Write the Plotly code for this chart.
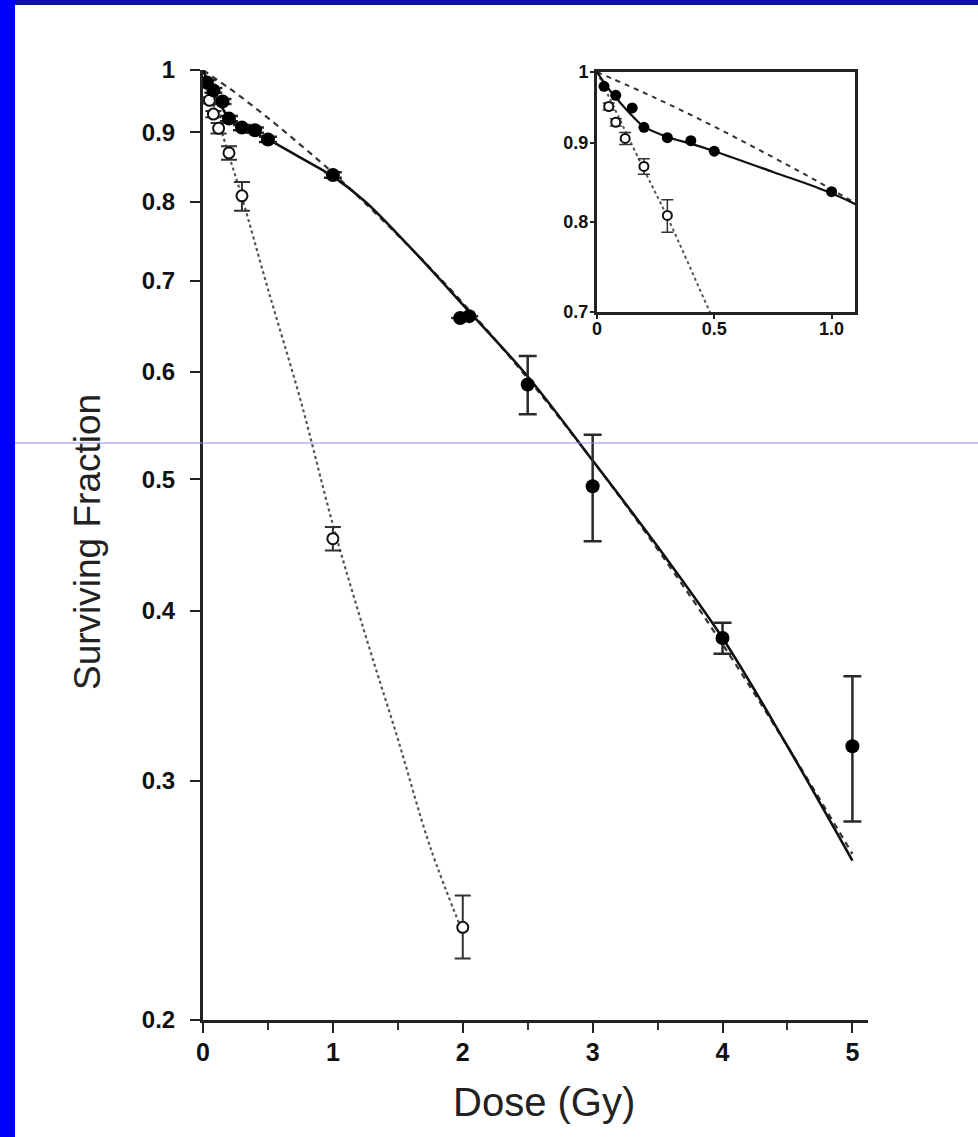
import plotly.graph_objects as go
import math

# ---------------- data ----------------
filled_dose = [0.03, 0.08, 0.15, 0.2, 0.3, 0.4, 0.5, 1.0, 1.98, 2.05, 2.5, 3.0, 4.0, 5.0]
filled_sf = [0.979, 0.966, 0.948, 0.921, 0.907, 0.903, 0.889, 0.837, 0.657, 0.659, 0.587, 0.494, 0.382, 0.318]
filled_err_hi = [0.004, 0.004, 0.004, 0.004, 0.004, 0.004, 0.004, 0.004, 0.0, 0.0, 0.029, 0.045, 0.010, 0.040]
filled_err_lo = [0.004, 0.004, 0.004, 0.004, 0.004, 0.004, 0.004, 0.004, 0.0, 0.0, 0.029, 0.044, 0.010, 0.038]

open_dose = [0.05, 0.08, 0.12, 0.2, 0.3, 1.0, 2.0]
open_sf = [0.95, 0.928, 0.906, 0.869, 0.808, 0.452, 0.234]
open_err_hi = [0.005, 0.005, 0.008, 0.010, 0.019, 0.009, 0.013]
open_err_lo = [0.005, 0.005, 0.008, 0.010, 0.020, 0.009, 0.012]

solid_dose = [0, 0.05, 0.1, 0.15, 0.2, 0.3, 0.4, 0.5, 0.75, 1.0, 1.25, 1.5, 1.75, 2.0, 2.5, 3.0, 3.5, 4.0, 4.5, 5.0]
solid_sf = [1.0, 0.975, 0.955, 0.937, 0.922, 0.908, 0.899, 0.889, 0.862, 0.835, 0.800, 0.757, 0.714, 0.672, 0.595, 0.516, 0.446, 0.382, 0.318, 0.262]

dashed_dose = [0, 0.25, 0.5, 0.75, 1.0, 1.5, 2.0, 2.5, 3.0, 3.5, 4.0, 4.5, 5.0]
dashed_sf = [1.0, 0.962, 0.922, 0.881, 0.840, 0.756, 0.674, 0.593, 0.516, 0.444, 0.378, 0.318, 0.265]

dotted_dose = [0, 0.1, 0.2, 0.3, 0.5, 0.75, 1.0, 1.25, 1.5, 1.75, 2.0]
dotted_sf = [1.0, 0.93, 0.865, 0.806, 0.69, 0.572, 0.463, 0.384, 0.322, 0.268, 0.232]

main_y_ticks = [0.2, 0.3, 0.4, 0.5, 0.6, 0.7, 0.8, 0.9, 1]
main_y_text = ["0.2", "0.3", "0.4", "0.5", "0.6", "0.7", "0.8", "0.9", "1"]
main_x_ticks = [0, 1, 2, 3, 4, 5]
main_x_text = ["0", "1", "2", "3", "4", "5"]
inset_y_ticks = [0.7, 0.8, 0.9, 1]
inset_y_text = ["0.7", "0.8", "0.9", "1"]
inset_x_ticks = [0, 0.5, 1.0]
inset_x_text = ["0", "0.5", "1.0"]

# ---------------- layout geometry ----------------
W, H = 978, 1137
L, T = 203, 70
PW, PH = 665, 950
R = W - L - PW
B = H - T - PH


def px_x(p):
    return (p - L) / PW


def px_y(p):
    return (T + PH - p) / PH


FONT = "Liberation Sans, Arial, sans-serif"
INK = "#111"

fig = go.Figure()

# ----- main plot -----
fig.add_trace(go.Scatter(x=dotted_dose, y=dotted_sf, mode="lines", line=dict(color="#555", width=2.2, dash="dot", shape="spline"),
                         showlegend=False))
fig.add_trace(go.Scatter(x=dashed_dose, y=dashed_sf, mode="lines", line=dict(color="#333", width=2.2, dash="6px,5px", shape="spline"),
                         showlegend=False))
fig.add_trace(go.Scatter(x=solid_dose, y=solid_sf, mode="lines", line=dict(color="#111", width=2.6, shape="spline"),
                         showlegend=False))
fig.add_trace(go.Scatter(x=open_dose, y=open_sf, mode="markers",
                         marker=dict(symbol="circle", size=11, color="white", line=dict(color="#111", width=2)),
                         error_y=dict(type="data", symmetric=False, array=open_err_hi, arrayminus=open_err_lo,
                                      color="#333", thickness=2, width=8),
                         showlegend=False))
fig.add_trace(go.Scatter(x=filled_dose, y=filled_sf, mode="markers",
                         marker=dict(symbol="circle", size=14, color="#000"),
                         error_y=dict(type="data", symmetric=False, array=filled_err_hi, arrayminus=filled_err_lo,
                                      color="#2a2a2a", thickness=2.5, width=9),
                         showlegend=False))

# ----- inset -----
fig.add_trace(go.Scatter(x=dotted_dose, y=dotted_sf, mode="lines", xaxis="x2", yaxis="y2",
                         line=dict(color="#555", width=2, dash="dot", shape="spline"), showlegend=False))
fig.add_trace(go.Scatter(x=dashed_dose, y=dashed_sf, mode="lines", xaxis="x2", yaxis="y2",
                         line=dict(color="#333", width=2, dash="5px,5px", shape="spline"), showlegend=False))
fig.add_trace(go.Scatter(x=solid_dose, y=solid_sf, mode="lines", xaxis="x2", yaxis="y2",
                         line=dict(color="#111", width=2.2, shape="spline"), showlegend=False))
fig.add_trace(go.Scatter(x=open_dose, y=open_sf, mode="markers", xaxis="x2", yaxis="y2",
                         marker=dict(symbol="circle", size=9, color="white", line=dict(color="#111", width=2)),
                         error_y=dict(type="data", symmetric=False, array=open_err_hi, arrayminus=open_err_lo,
                                      color="#333", thickness=1.5, width=6),
                         showlegend=False))
fig.add_trace(go.Scatter(x=filled_dose, y=filled_sf, mode="markers", xaxis="x2", yaxis="y2",
                         marker=dict(symbol="circle", size=11, color="#000"),
                         showlegend=False))

axis_common = dict(showgrid=False, zeroline=False, showline=True, linecolor="#222", ticks="outside",
                   tickcolor="#222")

fig.update_layout(
    width=W, height=H,
    margin=dict(l=L, r=R, t=T, b=B, pad=0),
    paper_bgcolor="white", plot_bgcolor="white",
    font=dict(family=FONT, color=INK),
    xaxis=dict(axis_common, domain=[0, 1], range=[0, 5.12], tickvals=main_x_ticks, ticktext=main_x_text,
               linewidth=3, ticklen=10, tickwidth=2, tickfont=dict(size=25, color=INK, weight="bold"),
               ticklabelstandoff=-2,
               minor=dict(dtick=0.5, tick0=0, ticks="outside", ticklen=7, tickwidth=2, tickcolor="#333"),
               anchor="y"),
    yaxis=dict(axis_common, domain=[0, 1], type="log", range=[math.log10(0.2), 0],
               tickvals=main_y_ticks, ticktext=main_y_text, linewidth=3, ticklen=10, tickwidth=2,
               tickfont=dict(size=24, color=INK, weight="bold"), ticklabelstandoff=10, anchor="x"),
    xaxis2=dict(axis_common, domain=[px_x(597), px_x(855)], range=[0, 1.1], tickvals=inset_x_ticks,
                ticktext=inset_x_text, linewidth=3, mirror=True, ticklen=4, tickwidth=2,
                tickfont=dict(size=18, color=INK, weight="bold"), ticklabelstandoff=-6, anchor="y2"),
    yaxis2=dict(axis_common, domain=[px_y(312), px_y(72)], type="log", range=[math.log10(0.7), 0],
                tickvals=inset_y_ticks, ticktext=inset_y_text, linewidth=3, mirror=True, ticklen=4, tickwidth=2,
                tickfont=dict(size=18, color=INK, weight="bold"), ticklabelstandoff=-2, anchor="x2"),
    annotations=[
        dict(text="Surviving Fraction", xref="paper", yref="paper", x=px_x(87), y=px_y(542),
             xanchor="center", yanchor="middle", textangle=-90, showarrow=False,
             font=dict(size=37, color="#222", family=FONT)),
        dict(text="Dose (Gy)", xref="paper", yref="paper", x=px_x(544), y=px_y(1102),
             xanchor="center", yanchor="middle", showarrow=False,
             font=dict(size=40, color="#222", family=FONT)),
    ],
    shapes=[
        dict(type="rect", xref="paper", yref="paper", x0=px_x(0), x1=px_x(15), y0=px_y(H), y1=px_y(0),
             fillcolor="#0000FF", line=dict(width=0), layer="above"),
        dict(type="rect", xref="paper", yref="paper", x0=px_x(15), x1=px_x(W), y0=px_y(5), y1=px_y(0),
             fillcolor="#1010A8", line=dict(width=0), layer="above"),
        dict(type="line", xref="paper", yref="paper", x0=px_x(15), x1=px_x(W), y0=px_y(443), y1=px_y(443),
             line=dict(color="#8c8cf0", width=1), layer="above"),
    ],
)

fig.write_html("out.html", config={"displayModeBar": False},
               post_script="document.body.style.margin='0';document.body.style.padding='0';")
